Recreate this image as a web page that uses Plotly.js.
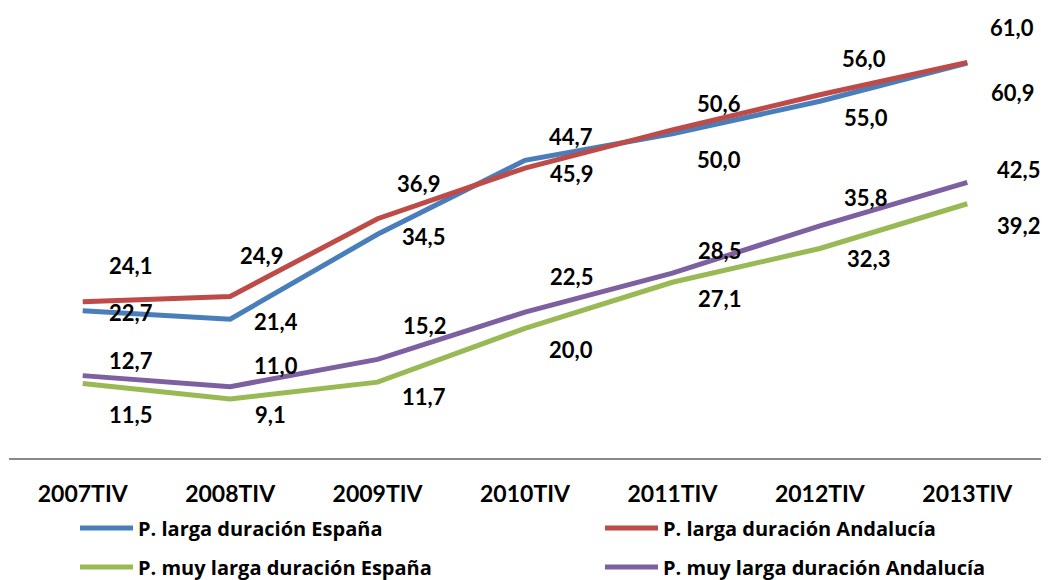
<!DOCTYPE html>
<html>
<head>
<meta charset="utf-8">
<script src="https://cdn.plot.ly/plotly-3.0.1.min.js"></script>
<style>html,body{margin:0;padding:0;background:#fff;}#chart{width:1049px;height:580px;}</style>
</head>
<body>
<div id="chart"></div>
<script>
// ---- data ----
const categories = ["2007TIV", "2008TIV", "2009TIV", "2010TIV", "2011TIV", "2012TIV", "2013TIV"];
const seriesNames = [
  "P. larga duración España",
  "P. larga duración Andalucía",
  "P. muy larga duración España",
  "P. muy larga duración Andalucía"
];
const largaEspana = [22.7, 21.4, 34.5, 45.9, 50.0, 55.0, 60.9];
const largaAndalucia = [24.1, 24.9, 36.9, 44.7, 50.6, 56.0, 61.0];
const muyLargaEspana = [11.5, 9.1, 11.7, 20.0, 27.1, 32.3, 39.2];
const muyLargaAndalucia = [12.7, 11.0, 15.2, 22.5, 28.5, 35.8, 42.5];

// ---- styles ----
const colors = ["#4A7EBB", "#BE4B48", "#98B954", "#7D60A0"];
const FONT = "Lato, 'Open Sans', sans-serif";
const LEGEND_FONT = "'Open Sans', Lato, sans-serif";
// label offsets in pixels [dx, dy] (dy positive = down), per series per point
const labelOffsets = [
  [[48, 2], [46, 2], [46, 2], [46, 13], [47, 26], [46, 16], [45, 29]],
  [[48, -36], [31, -41], [41, -35], [46, -32], [47, -26], [44, -36], [45, -35]],
  [[48, 31], [40, 16], [46, 14], [46, 21], [47, 16], [49, 10], [51, 22]],
  [[48, -15], [46, -21], [47, -34], [46, -36], [47, -23], [46, -28], [51, -13]]
];
// legend slot positions in container pixels [left, rowCenter]
const legendSlots = [[75, 528], [600, 528], [75, 567], [600, 567]];
const legendIds = ["legend", "legend2", "legend3", "legend4"];

const allSeries = [largaEspana, largaAndalucia, muyLargaEspana, muyLargaAndalucia];

const traces = allSeries.map((vals, i) => ({
  type: "scatter",
  mode: "lines",
  x: categories,
  y: vals,
  name: seriesNames[i],
  legend: legendIds[i],
  line: { color: colors[i], width: 5 },
  hoverinfo: "skip"
}));

const annotations = [];
allSeries.forEach((vals, i) => {
  vals.forEach((v, j) => {
    annotations.push({
      x: categories[j], y: v, xref: "x", yref: "y",
      text: v.toFixed(1).replace(".", ","),
      showarrow: false,
      xshift: labelOffsets[i][j][0],
      yshift: -labelOffsets[i][j][1],
      font: { family: FONT, size: 22, color: "#000", weight: "bold" }
    });
  });
});

const layout = {
  width: 1049, height: 580,
  margin: { l: 9, r: 8, t: 4, b: 122, pad: 0 },
  paper_bgcolor: "#fff", plot_bgcolor: "#fff",
  showlegend: true,
  xaxis: {
    type: "category",
    range: [-0.5, 6.5],
    showgrid: false, zeroline: false,
    showline: true, linecolor: "#888", linewidth: 2,
    ticks: "", ticklabelstandoff: 14,
    tickfont: { family: FONT, size: 23, color: "#000", weight: "bold" },
    fixedrange: true
  },
  yaxis: {
    range: [0, 70], visible: false, showgrid: false, zeroline: false, fixedrange: true
  },
  annotations: annotations
};

legendIds.forEach((id, i) => {
  layout[id] = {
    orientation: "h",
    xref: "container", yref: "container",
    xanchor: "left", yanchor: "middle",
    x: legendSlots[i][0] / 1049,
    y: 1 - legendSlots[i][1] / 580,
    itemwidth: 53,
    bgcolor: "rgba(0,0,0,0)",
    font: { family: LEGEND_FONT, size: 20, color: "#000", weight: "bold" }
  };
});

Plotly.newPlot("chart", traces, layout, { displayModeBar: false, staticPlot: true });
</script>
</body>
</html>
